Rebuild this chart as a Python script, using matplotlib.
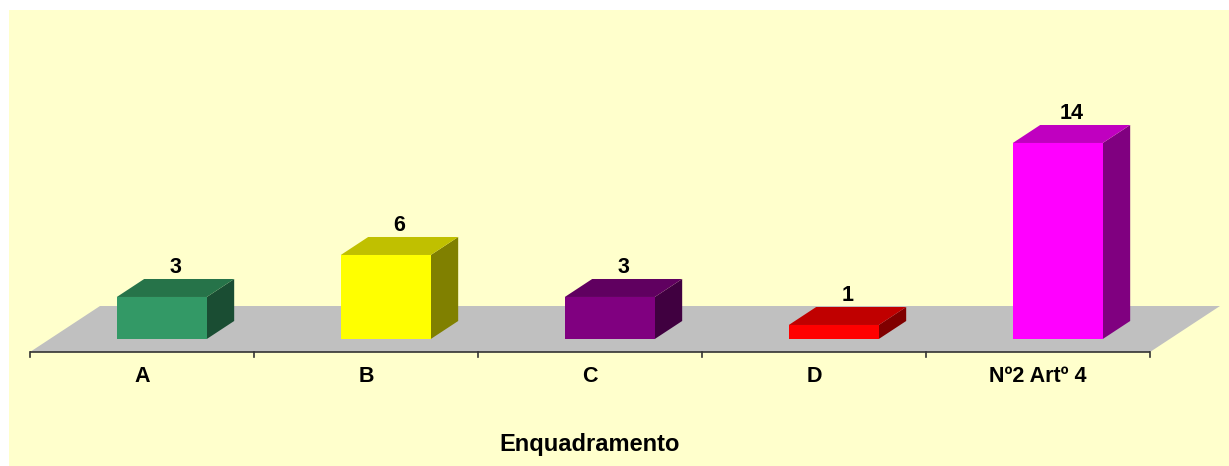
import matplotlib
matplotlib.use("Agg")
import matplotlib.pyplot as plt
from matplotlib.patches import Polygon, Rectangle

plt.rcParams['font.family'] = ['Liberation Sans', 'DejaVu Sans']
plt.rcParams['font.weight'] = 'bold'

categories = ["A", "B", "C", "D", "Nº2 Artº 4"]
values = [3, 6, 3, 1, 14]
axis_title = "Enquadramento"

# front, top, side shades for each bar
front_colors = ["#339966", "#FFFF00", "#800080", "#FF0000", "#FF00FF"]
top_colors = ["#267349", "#C0C000", "#600060", "#C00000", "#C000C0"]
side_colors = ["#1A4D33", "#808000", "#400040", "#800000", "#800080"]

W, H = 1229, 466
PX_CAT = 224.0   # pixels per category
PX_VAL = 14.0    # pixels per value unit

# full floor depth in data units
depth_dx = 70 / PX_CAT
depth_dy = 46 / PX_VAL
d_front, d_back = 0.283, 0.674
bar_w = 90 / PX_CAT

fig = plt.figure(figsize=(W / 100, H / 100), dpi=100)
fig.patch.set_facecolor("white")
fig.patches.append(Rectangle((9 / W, 0), 1 - 9 / W, (H - 10) / H,
                             transform=fig.transFigure, facecolor="#FFFFCC",
                             edgecolor="none", zorder=-1))

ax = fig.add_axes([0, 0, 1, 1])
ax.set_zorder(1)
ax.set_facecolor("none")
ax.patch.set_alpha(0)
ax.set_xlim(-30 / PX_CAT, (W - 30) / PX_CAT)
ax.set_ylim((352 - H) / PX_VAL, 352 / PX_VAL)
ax.axis("off")

n = len(categories)

# floor
ax.add_patch(Polygon([(0, 0), (n, 0), (n + depth_dx, depth_dy), (depth_dx, depth_dy)],
                     closed=True, facecolor="#C0C0C0", edgecolor="none", zorder=1))

# category axis with ticks
ax.plot([0, n], [0, 0], color="#333333", lw=1.2, zorder=2, solid_capstyle="butt")
for k in range(n + 1):
    ax.plot([k, k], [0, -5 / PX_VAL], color="#333333", lw=1.2, zorder=2)

dd = (d_back - d_front) * depth_dx
dh = (d_back - d_front) * depth_dy
base = d_front * depth_dy

for i, (cat, v) in enumerate(zip(categories, values)):
    x0 = i + 0.5 + d_front * depth_dx - bar_w / 2
    top = base + v
    ax.add_patch(Polygon([(x0 + bar_w, base), (x0 + bar_w + dd, base + dh),
                          (x0 + bar_w + dd, top + dh), (x0 + bar_w, top)],
                         closed=True, facecolor=side_colors[i], edgecolor="none", zorder=3))
    ax.add_patch(Polygon([(x0, top), (x0 + bar_w, top), (x0 + bar_w + dd, top + dh),
                          (x0 + dd, top + dh)],
                         closed=True, facecolor=top_colors[i], edgecolor="none", zorder=3))
    ax.add_patch(Rectangle((x0, base), bar_w, v, facecolor=front_colors[i],
                           edgecolor="none", zorder=4))
    ax.text(x0 + bar_w / 2 + dd / 2, top + dh + 1 / PX_VAL, str(v),
            ha="center", va="bottom", fontsize=15.5, fontweight="bold", zorder=5)
    ax.text(i + 0.5, -24 / PX_VAL, cat, ha="center", va="center",
            fontsize=15.5, fontweight="bold")

ax.text(n / 2, -92 / PX_VAL, axis_title, ha="center", va="center",
        fontsize=17, fontweight="bold")

fig.savefig("out.png", dpi=100, facecolor=fig.get_facecolor())
